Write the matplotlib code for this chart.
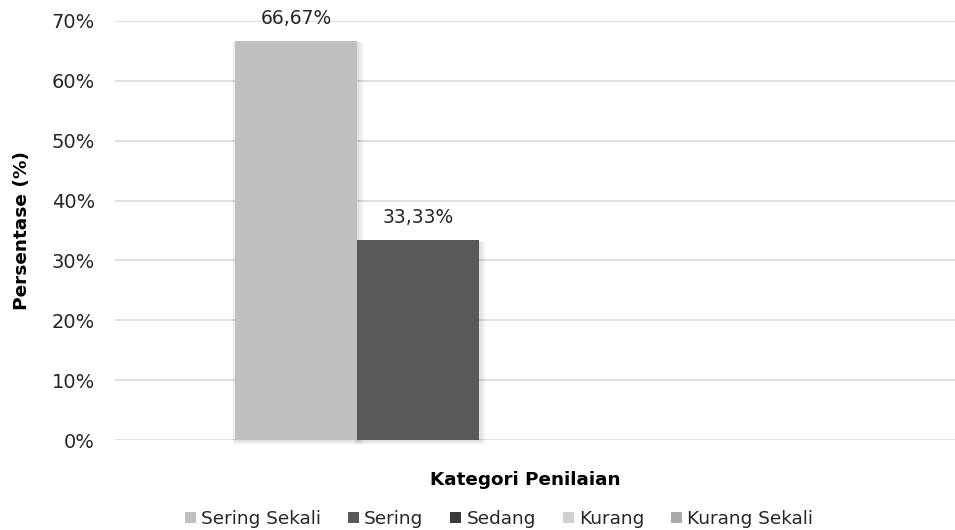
import matplotlib
matplotlib.use("Agg")
import matplotlib.pyplot as plt
from matplotlib.patches import Rectangle
import numpy as np

plt.rcParams['font.family'] = ['DejaVu Sans']

series = ["Sering Sekali", "Sering", "Sedang", "Kurang", "Kurang Sekali"]
values = [66.67, 33.33, 0.0, 0.0, 0.0]
labels = ["66,67%", "33,33%", None, None, None]
colors = ["#bfbfbf", "#595959", "#3a3a3a", "#d0d0d0", "#a9a7a7"]
yticks = [0, 10, 20, 30, 40, 50, 60, 70]
ytick_labels = ["0%", "10%", "20%", "30%", "40%", "50%", "60%", "70%"]

W, H = 955, 530
fig = plt.figure(figsize=(W / 100, H / 100), dpi=100)
ax = fig.add_axes([115 / W, (H - 440) / H, 840 / W, 419 / H])

ax.set_xlim(0, 1)
ax.set_ylim(0, 70)

bar_w = 0.1452
start = 0.1429
xs = start + bar_w / 2 + np.arange(len(series)) * bar_w

# soft shadow behind the drawn columns
vis = [(x, v) for x, v in zip(xs, values) if v > 0]
for k in range(6):
    pad_x = 0.0012 * (k + 1)
    pad_y = 0.12 * (k + 1)
    for x, v in vis:
        ax.add_patch(Rectangle((x - bar_w / 2 - pad_x * 0.6 + 0.001, -pad_y - 0.1),
                               bar_w + pad_x * 1.6, v + pad_y * 0.6 + 0.1,
                               facecolor="black", alpha=0.018, linewidth=0,
                               zorder=1.5, clip_on=False))

handles = []
for x, v, c, name in zip(xs, values, colors, series):
    b = ax.bar(x, v, width=bar_w, color=c, linewidth=0, zorder=2, label=name)
    handles.append(b)

for x, v, lab in zip(xs, values, labels):
    if lab:
        ax.text(x, v + 2.2, lab, ha="center", va="bottom", fontsize=13.5,
                color="#262626", zorder=3)

ax.set_yticks(yticks)
ax.set_yticklabels(ytick_labels, fontsize=14, color="#262626")
ax.set_xticks([])
ax.tick_params(axis="y", length=0, pad=14.4)
ax.grid(axis="y", color="#d9d9d9", linewidth=1.2, zorder=0)
ax.set_axisbelow(True)
for s in ax.spines.values():
    s.set_visible(False)

ax.set_ylabel("Persentase (%)", fontsize=13.3, fontweight="bold", color="#000000")
ax.yaxis.set_label_coords(-84 / 840, 0.5)
fig.text(525 / W, 1 - 480 / H, "Kategori Penilaian", ha="center", va="center",
         fontsize=13.2, fontweight="bold", color="#000000")

leg = fig.legend(handles=handles, labels=series, loc="center",
                 bbox_to_anchor=(499 / W, 1 - 519 / H), ncol=5, frameon=False,
                 fontsize=13.3, handlelength=0.6, handleheight=0.6,
                 handletextpad=0.28, columnspacing=1.45)
for t in leg.get_texts():
    t.set_color("#262626")

fig.savefig("out.png", dpi=100, facecolor="white")
